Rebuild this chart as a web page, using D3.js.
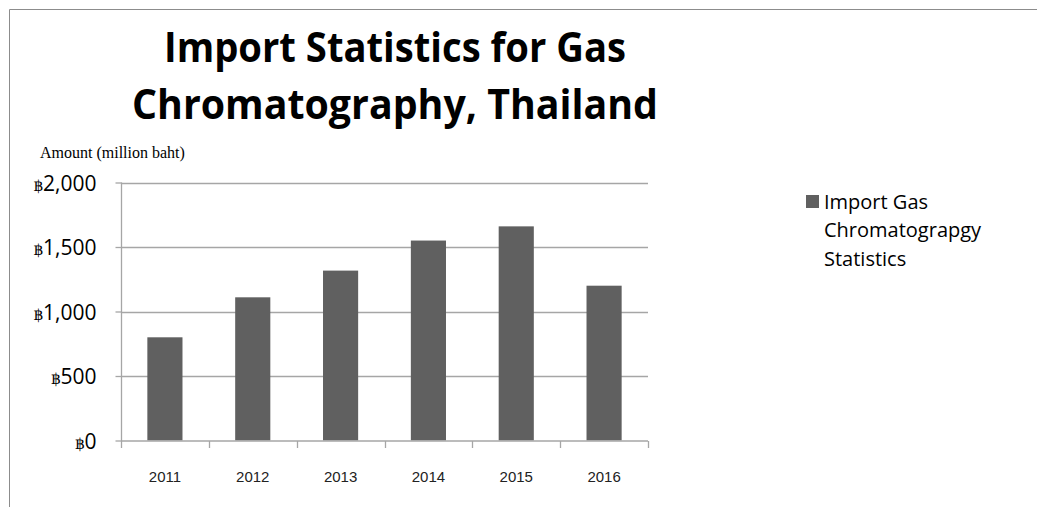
<!DOCTYPE html>
<html>
<head>
<meta charset="utf-8">
<script src="https://cdn.jsdelivr.net/npm/d3@7"></script>
<style>
  html, body { margin: 0; padding: 0; background: #fff; }
  svg { display: block; }
</style>
</head>
<body>
<svg id="chart" width="1037" height="507"></svg>
<script>
'use strict';

// chart data
var years = ['2011', '2012', '2013', '2014', '2015', '2016'];
var importValues = [800, 1110, 1317, 1550, 1660, 1200];
var yTicks = [0, 500, 1000, 1500, 2000];
var titleLines = ['Import Statistics for Gas', 'Chromatography, Thailand'];
var legendLines = ['Import Gas', 'Chromatograpgy', 'Statistics'];

var svg = d3.select('#chart');

var plot = { left: 121, right: 648, top: 182.5, bottom: 440.5 };
var barColor = '#606060';
var gridColor = '#a6a6a6';

// outer frame (only top and left edges are visible)
svg.append('path')
  .attr('d', 'M9.5,507 V9.5 H1037')
  .attr('fill', 'none')
  .attr('stroke', '#8c8c8c')
  .attr('stroke-width', 1);

// title - squeezed a little to look like the narrow original face
var titleWidths = [462, 526];
svg.append('g').selectAll('text')
  .data(titleLines)
  .enter().append('text')
  .attr('x', 395)
  .attr('y', function(d, i) { return 62 + i * 57; })
  .attr('text-anchor', 'middle')
  .attr('textLength', function(d, i) { return titleWidths[i]; })
  .attr('lengthAdjust', 'spacingAndGlyphs')
  .style('font-family', 'Open Sans, sans-serif')
  .style('font-weight', 'bold')
  .style('font-size', '41px')
  .style('fill', '#000')
  .text(function(d) { return d; });

// axis title
svg.append('text')
  .attr('x', 40)
  .attr('y', 158)
  .style('font-family', 'Liberation Serif, serif')
  .style('font-size', '16px')
  .style('fill', '#000')
  .text('Amount (million baht)');

var x = d3.scaleBand()
  .domain(years)
  .range([plot.left, plot.right])
  .paddingInner(0.6)
  .paddingOuter(0.3);

var xCat = d3.scaleBand()
  .domain(years)
  .range([plot.left, plot.right]);

var y = d3.scaleLinear()
  .domain([0, 2000])
  .range([plot.bottom, plot.top]);

// gridlines
svg.append('g')
  .selectAll('line')
  .data(yTicks.filter(function(d) { return d > 0; }))
  .enter().append('line')
  .attr('x1', plot.left)
  .attr('x2', plot.right)
  .attr('y1', function(d) { return Math.round(y(d)) + 0.5; })
  .attr('y2', function(d) { return Math.round(y(d)) + 0.5; })
  .attr('stroke', gridColor)
  .attr('stroke-width', 1.3);

// bars
svg.append('g')
  .selectAll('rect')
  .data(importValues)
  .enter().append('rect')
  .attr('x', function(d, i) { return x(years[i]); })
  .attr('width', x.bandwidth())
  .attr('y', function(d) { return y(d); })
  .attr('height', function(d) { return plot.bottom - y(d); })
  .attr('fill', barColor);

// y axis
var yAxis = svg.append('g')
  .attr('transform', 'translate(' + (plot.left + 0.5) + ',0)')
  .call(d3.axisLeft(y)
    .tickValues(yTicks)
    .tickSize(6)
    .tickFormat(function(d) { return d3.format(',')(d); }));

yAxis.select('.domain').attr('stroke', gridColor).attr('stroke-width', 1.3)
  .attr('d', 'M0,' + plot.top + 'V' + (plot.bottom + 1));
yAxis.selectAll('.tick line').attr('stroke', gridColor).attr('stroke-width', 1.3);
yAxis.selectAll('.tick text').remove();
yAxis.selectAll('.tick').append('text')
  .attr('x', -25)
  .attr('dy', '0.36em')
  .attr('text-anchor', 'end')
  .style('fill', '#000')
  .style('font-family', 'Open Sans, sans-serif')
  .style('font-size', '21px')
  .each(function(d) {
    var t = d3.select(this);
    t.append('tspan')
      .style('font-family', 'DejaVu Serif, serif')
      .style('font-size', '15px')
      .text('\u0E3F');
    t.append('tspan').text(d3.format(',')(d));
  });

// x axis
var xAxis = svg.append('g')
  .attr('transform', 'translate(0,' + (plot.bottom + 0.5) + ')')
  .call(d3.axisBottom(xCat).tickSize(0).tickPadding(30));

xAxis.select('.domain').attr('stroke', gridColor).attr('stroke-width', 1.3)
  .attr('d', 'M' + plot.left + ',0H' + plot.right);
xAxis.selectAll('.tick text')
  .style('font-family', 'Liberation Sans, Arial, sans-serif')
  .style('font-size', '15px')
  .style('fill', '#222');

// category boundary ticks below the axis
xAxis.append('g')
  .selectAll('line')
  .data(d3.range(years.length + 1))
  .enter().append('line')
  .attr('x1', function(i) { return Math.round(plot.left + i * xCat.step()) + 0.5; })
  .attr('x2', function(i) { return Math.round(plot.left + i * xCat.step()) + 0.5; })
  .attr('y1', 0)
  .attr('y2', 7)
  .attr('stroke', gridColor)
  .attr('stroke-width', 1.3);

// legend
var legend = svg.append('g').attr('transform', 'translate(806,195)');
legend.append('rect')
  .attr('width', 13)
  .attr('height', 13)
  .attr('fill', barColor);
legend.selectAll('text')
  .data(legendLines)
  .enter().append('text')
  .attr('x', 18)
  .attr('y', function(d, i) { return 13.5 + i * 28.5; })
  .style('font-family', 'Open Sans, sans-serif')
  .style('font-size', '20px')
  .style('fill', '#000')
  .text(function(d) { return d; });
</script>
</body>
</html>
